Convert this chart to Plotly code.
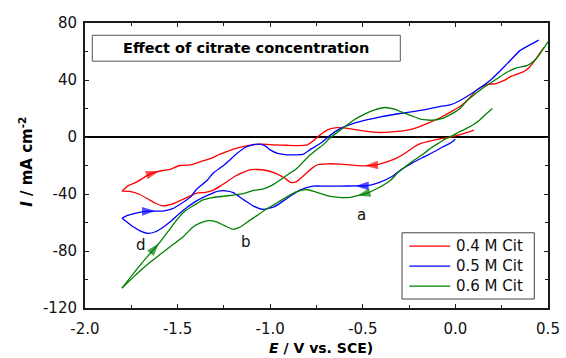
import numpy as np
import plotly.graph_objects as go

# Cyclic voltammograms, potential E (V vs. SCE) and current density I (mA cm-2).
# Each sweep: cathodic scan from the start potential to the -1.8 V vertex,
# then the anodic return scan.

# 0.4 M citrate
E_04_cath = [0.10, 0.06, 0.02, -0.03, -0.08, -0.12, -0.19, -0.23, -0.26, -0.32, -0.37, -0.44, -0.50, -0.55,
             -0.62, -0.69, -0.74, -0.77, -0.81, -0.86, -0.89, -0.92, -0.97, -1.02, -1.07, -1.11, -1.15, -1.19,
             -1.23, -1.27, -1.31, -1.35, -1.40, -1.45, -1.50, -1.54, -1.58, -1.62, -1.66, -1.71, -1.76, -1.80]
I_04_cath = [4.8, 3.0, 1.5, -0.2, -1.2, -2.3, -4.6, -7.5, -10.4, -15.0, -17.4, -19.8, -20.3, -19.8,
             -19.0, -18.8, -19.3, -21.5, -26.0, -31.5, -31.8, -29.0, -25.5, -23.5, -22.8, -23.0, -25.0, -27.5,
             -31.0, -34.5, -37.5, -38.8, -39.5, -42.5, -45.5, -47.5, -48.3, -46.5, -43.5, -40.0, -38.2, -38.0]
E_04_anod = [-1.80, -1.77, -1.72, -1.67, -1.63, -1.58, -1.54, -1.49, -1.43, -1.37, -1.32, -1.27, -1.22, -1.17,
             -1.12, -1.05, -0.98, -0.91, -0.85, -0.80, -0.77, -0.73, -0.69, -0.64, -0.59, -0.52, -0.42, -0.34,
             -0.26, -0.20, -0.15, -0.08, -0.02, 0.03, 0.08, 0.12, 0.17, 0.22, 0.26, 0.30, 0.34, 0.37, 0.40,
             0.43, 0.46, 0.48]
I_04_anod = [-38.0, -34.5, -31.5, -27.5, -25.0, -23.5, -22.8, -20.0, -19.6, -17.0, -15.0, -12.0, -9.5, -7.5,
             -6.0, -5.0, -5.5, -5.8, -6.0, -5.5, -3.0, 1.5, 5.0, 6.6, 6.2, 4.8, 3.2, 3.6,
             4.8, 7.0, 9.5, 13.7, 18.0, 22.0, 28.0, 33.5, 36.8, 37.5, 39.5, 42.5, 44.5, 46.0, 49.0,
             54.0, 59.5, 63.0]

# 0.5 M citrate
E_05_cath = [0.00, -0.03, -0.07, -0.10, -0.17, -0.23, -0.30, -0.34, -0.41, -0.48, -0.54, -0.62, -0.70, -0.77,
             -0.84, -0.88, -0.93, -0.98, -1.04, -1.09, -1.14, -1.20, -1.24, -1.28, -1.33, -1.40, -1.45, -1.49,
             -1.54, -1.58, -1.62, -1.66, -1.70, -1.74, -1.77, -1.80]
I_05_cath = [-1.5, -4.5, -7.0, -9.3, -14.0, -18.0, -23.5, -27.5, -31.8, -34.3, -34.3, -34.5, -34.5, -34.5,
             -37.3, -40.5, -45.0, -49.0, -50.8, -48.5, -44.3, -39.0, -37.8, -38.0, -40.5, -45.0, -49.5, -53.6,
             -59.5, -63.5, -66.5, -67.6, -66.0, -63.0, -60.0, -57.0]
E_05_anod = [-1.80, -1.77, -1.73, -1.69, -1.65, -1.58, -1.53, -1.49, -1.43, -1.40, -1.34, -1.31, -1.25, -1.22,
             -1.18, -1.13, -1.07, -1.03, -1.00, -0.96, -0.91, -0.86, -0.82, -0.78, -0.73, -0.68, -0.62, -0.55,
             -0.48, -0.41, -0.30, -0.17, -0.08, -0.03, 0.03, 0.10, 0.19, 0.28, 0.35, 0.40, 0.45]
I_05_anod = [-57.0, -55.0, -53.6, -52.5, -52.0, -52.0, -50.5, -47.5, -42.0, -37.0, -30.3, -25.6, -19.8, -16.3,
             -11.6, -7.0, -5.0, -6.0, -9.0, -11.5, -12.5, -12.5, -12.0, -8.5, -4.6, 0.8, 6.0, 9.5,
             12.0, 14.0, 16.5, 19.0, 21.5, 22.5, 26.0, 31.6, 40.0, 51.5, 60.8, 64.5, 68.0]

# 0.6 M citrate
E_06_cath = [0.20, 0.16, 0.13, 0.10, 0.06, 0.02, -0.01, -0.05, -0.08, -0.13, -0.17, -0.22, -0.26, -0.31,
             -0.35, -0.42, -0.48, -0.53, -0.57, -0.63, -0.68, -0.73, -0.80, -0.86, -0.91, -0.96, -1.02, -1.07,
             -1.11, -1.16, -1.20, -1.25, -1.29, -1.34, -1.38, -1.42, -1.47, -1.53, -1.59, -1.64, -1.69, -1.74,
             -1.80]
I_06_cath = [20.0, 15.5, 11.8, 9.0, 6.0, 3.5, 1.3, -1.0, -3.5, -7.5, -11.6, -16.0, -19.8, -25.0,
             -30.3, -36.0, -39.6, -41.2, -42.4, -42.4, -41.5, -39.5, -37.0, -38.5, -42.0, -46.0, -50.5, -55.0,
             -58.5, -63.0, -64.8, -62.0, -59.5, -58.8, -60.5, -63.5, -70.0, -76.0, -82.0, -87.0, -92.5, -98.5,
             -106.0]
E_06_anod = [-1.80, -1.74, -1.69, -1.64, -1.60, -1.55, -1.50, -1.46, -1.41, -1.36, -1.31, -1.25, -1.20, -1.14,
             -1.09, -1.04, -1.00, -0.95, -0.91, -0.86, -0.80, -0.75, -0.71, -0.68, -0.62, -0.55, -0.49, -0.44,
             -0.38, -0.33, -0.28, -0.23, -0.18, -0.12, -0.07, -0.03, 0.02, 0.06, 0.12, 0.17, 0.22, 0.28,
             0.33, 0.39, 0.43, 0.46, 0.50]
I_06_anod = [-106.0, -96.0, -88.0, -80.5, -74.5, -66.0, -57.5, -52.0, -47.8, -44.0, -42.5, -41.5, -40.8, -39.5,
             -37.5, -36.5, -34.5, -30.5, -26.8, -22.5, -14.5, -9.0, -5.0, -1.0, 5.0, 11.8, 16.0, 18.8,
             20.7, 19.5, 17.0, 14.5, 12.3, 11.8, 13.0, 15.5, 19.5, 25.0, 31.5, 36.3, 40.5, 45.6,
             48.5, 50.3, 54.0, 59.0, 66.7]

series_names = ["0.4 M Cit", "0.5 M Cit", "0.6 M Cit"]
series_colors = ["#ff0000", "#0000ff", "#008000"]
cathodic = [(E_04_cath, I_04_cath), (E_05_cath, I_05_cath), (E_06_cath, I_06_cath)]
anodic = [(E_04_anod, I_04_anod), (E_05_anod, I_05_anod), (E_06_anod, I_06_anod)]

# Potentials at which the scan-direction arrows sit (cathodic, anodic)
arrow_E = [(-0.49, -1.60), (-0.54, -1.62), (-0.53, -1.60)]

# Peak labels
peak_labels = ["a", "b", "d"]
peak_E = [-0.505, -1.13, -1.70]
peak_I = [-54.8, -73.5, -76.0]

x_tick_vals = [-2.0, -1.5, -1.0, -0.5, 0.0, 0.5]
x_tick_text = ["-2.0", "-1.5", "-1.0", "-0.5", "0.0", "0.5"]
y_tick_vals = [-120, -80, -40, 0, 40, 80]
y_tick_text = ["-120", "-80", "-40", "0", "40", "80"]

FONT = "DejaVu Sans, Liberation Sans, sans-serif"
AXIS = "#1a1a1a"


def point_on(E, I, e):
    Ea, Ia = np.asarray(E), np.asarray(I)
    order = np.argsort(Ea)
    return float(np.interp(e, Ea[order], Ia[order]))


fig = go.Figure()
for k in range(3):
    for E, I in (cathodic[k], anodic[k]):
        fig.add_trace(go.Scatter(
            x=E, y=I, mode="lines", name=series_names[k], showlegend=False, hoverinfo="skip",
            line=dict(color=series_colors[k], width=1.3, shape="spline", smoothing=0.6),
        ))

# scan-direction arrowheads, oriented along the curve
for k in range(3):
    (Ec, Ic), (Ea, Ia) = cathodic[k], anodic[k]
    ec, ea = arrow_E[k]
    for E, I, tip, tail in ((Ec, Ic, ec, ec + 0.04), (Ea, Ia, ea, ea - 0.04)):
        fig.add_trace(go.Scatter(
            x=[tail, tip], y=[point_on(E, I, tail), point_on(E, I, tip)], mode="markers",
            showlegend=False, hoverinfo="skip",
            marker=dict(symbol="arrow", size=[0, 14], angleref="previous", color=series_colors[k],
                        line=dict(width=0)),
        ))

annotations = []
for lab, e, i in zip(peak_labels, peak_E, peak_I):
    annotations.append(dict(x=e, y=i, xref="x", yref="y", text=lab, showarrow=False,
                            font=dict(family=FONT, size=15, color="#111")))

# chart title inside a framed box
annotations.append(dict(x=0.348, y=0.912, xref="paper", yref="paper", xanchor="center", yanchor="middle",
                        text="<b>Effect of citrate concentration</b>", showarrow=False,
                        font=dict(family=FONT, size=14.5, color="#000")))
# axis titles
annotations.append(dict(x=-0.128, y=0.512, xref="paper", yref="paper", xanchor="center", yanchor="middle",
                        textangle=-90, showarrow=False,
                        text="<b><i>I</i> / mA cm<sup>-2</sup></b>",
                        font=dict(family=FONT, size=15, color="#000")))
annotations.append(dict(x=0.510, y=-0.174, xref="paper", yref="paper", xanchor="center", yanchor="bottom",
                        showarrow=False, text="<b><i>E</i> / V vs. SCE)</b>",
                        font=dict(family=FONT, size=14, color="#000")))

# legend panel
leg_x0, leg_x1, leg_y0, leg_y1 = 0.6847, 0.9704, 0.0315, 0.2639
leg_rows = [0.2173, 0.1472, 0.0771]
shapes = [
    dict(type="rect", xref="paper", yref="paper", x0=0.0158, x1=0.681, y0=0.866, y1=0.957,
         line=dict(color="#555", width=1), fillcolor="rgba(0,0,0,0)"),
    dict(type="rect", xref="paper", yref="paper", x0=leg_x0, x1=leg_x1, y0=leg_y0, y1=leg_y1,
         line=dict(color="#444", width=1), fillcolor="white", layer="above"),
]
for name, col, ry in zip(series_names, series_colors, leg_rows):
    shapes.append(dict(type="line", xref="paper", yref="paper", x0=0.7004, x1=0.7890, y0=ry, y1=ry,
                       line=dict(color=col, width=1.3), layer="above"))
    annotations.append(dict(x=0.7976, y=ry, xref="paper", yref="paper", xanchor="left", yanchor="middle",
                            text=name, showarrow=False, font=dict(family=FONT, size=15, color="#111")))

axis_common = dict(
    showline=True, linewidth=2, linecolor=AXIS, mirror="allticks",
    ticks="inside", ticklen=4, tickwidth=1.2, tickcolor=AXIS,
    showgrid=False, tickfont=dict(family=FONT, size=15, color="#111"), automargin=False,
)

fig.update_layout(
    width=566, height=358,
    margin=dict(l=85, r=18, t=23, b=50),
    paper_bgcolor="white", plot_bgcolor="white",
    xaxis=dict(range=[-2.0, 0.5], tickmode="array", tickvals=x_tick_vals, ticktext=x_tick_text,
               zeroline=False, ticklabelstandoff=6,
               minor=dict(dtick=0.25, tick0=0, ticks="inside", ticklen=3, tickcolor=AXIS),
               **axis_common),
    yaxis=dict(range=[-120, 80], tickmode="array", tickvals=y_tick_vals, ticktext=y_tick_text,
               zeroline=True, zerolinecolor="#000", zerolinewidth=2, ticklabelstandoff=3,
               minor=dict(dtick=20, tick0=0, ticks="inside", ticklen=3, tickcolor=AXIS),
               **axis_common),
    shapes=shapes,
    annotations=annotations,
    showlegend=False,
)

fig.write_html("out.html")
